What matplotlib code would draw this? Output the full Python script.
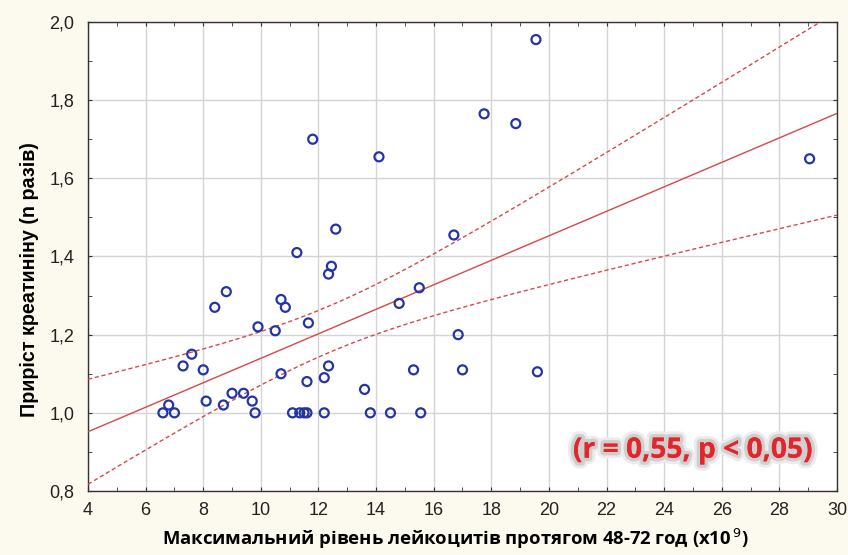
import numpy as np
import matplotlib
matplotlib.use("Agg")
import matplotlib.pyplot as plt
import matplotlib.patheffects as pe
from matplotlib.ticker import MultipleLocator, FuncFormatter

# leukocytes max (x10^9) vs creatinine increase (n times)
leuko = [6.6, 6.8, 7.0, 7.3, 7.6, 8.0, 8.1, 8.4, 8.8, 8.7,
         9.0, 9.4, 9.7, 9.8, 9.9, 10.5, 10.7, 10.7, 10.85, 11.1,
         11.25, 11.35, 11.5, 11.6, 11.6, 11.65, 12.2, 12.2, 12.35, 12.35,
         12.45, 12.6, 13.6, 13.8, 14.5, 14.8, 15.3, 15.5, 15.55, 16.7,
         16.85, 17.0, 11.8, 14.1, 19.55, 17.75, 18.85, 29.05, 19.6]
creat = [1.00, 1.02, 1.00, 1.12, 1.15, 1.11, 1.03, 1.27, 1.31, 1.02,
         1.05, 1.05, 1.03, 1.00, 1.22, 1.21, 1.10, 1.29, 1.27, 1.00,
         1.41, 1.00, 1.00, 1.00, 1.08, 1.23, 1.00, 1.09, 1.12, 1.355,
         1.375, 1.47, 1.06, 1.00, 1.00, 1.28, 1.11, 1.32, 1.00, 1.455,
         1.20, 1.11, 1.70, 1.655, 1.955, 1.765, 1.74, 1.65, 1.105]

xlabel = "Максимальний рівень лейкоцитів протягом 48-72 год (x10$^{\\,9}$)"
ylabel = "Приріст креатиніну (n разів)"
note = "(r = 0,55, p < 0,05)"

x = np.array(leuko)
y = np.array(creat)
n = len(x)

# linear fit + 95% confidence band of the mean
b, a = np.polyfit(x, y, 1)
resid = y - (a + b * x)
s = np.sqrt(np.sum(resid ** 2) / (n - 2))
sxx = np.sum((x - x.mean()) ** 2)
t = 2.012  # t(0.975, 47)
xs = np.linspace(4, 30, 200)
ys = a + b * xs
half = t * s * np.sqrt(1 / n + (xs - x.mean()) ** 2 / sxx)

bg = "#fcf9ee"
red = "#d9474a"
fig = plt.figure(figsize=(8.48, 5.55), dpi=100, facecolor=bg)
ax = fig.add_axes([0.1038, 0.1153, 0.8832, 0.8451])
ax.set_facecolor("white")

ax.plot(xs, ys, color=red, lw=1.0, zorder=3)
ax.plot(xs, ys + half, color=red, lw=1.0, ls=(0, (3, 2)), zorder=3)
ax.plot(xs, ys - half, color=red, lw=1.0, ls=(0, (3, 2)), zorder=3)
ax.scatter(x, y, s=42, facecolors="none", edgecolors="#2335a5", linewidths=1.6, zorder=4)

ax.set_xlim(4, 30)
ax.set_ylim(0.8, 2.0)
ax.xaxis.set_major_locator(MultipleLocator(2))
ax.xaxis.set_minor_locator(MultipleLocator(1))
ax.yaxis.set_major_locator(MultipleLocator(0.2))
ax.yaxis.set_minor_locator(MultipleLocator(0.1))
ax.yaxis.set_major_formatter(FuncFormatter(lambda v, p: f"{v:.1f}".replace(".", ",")))
ax.grid(True, which="major", color="#d4d4d4", lw=1.0)
ax.set_axisbelow(True)
ax.tick_params(which="both", direction="in", top=True, right=True, length=3,
               color="#333333", labelsize=13, labelcolor="#222222")
ax.tick_params(axis="x", pad=8)
ax.tick_params(axis="y", pad=10)
for lab in ax.get_xticklabels() + ax.get_yticklabels():
    lab.set_family("Liberation Sans")
for sp in ax.spines.values():
    sp.set_color("#333333")
    sp.set_linewidth(1.0)

ax.set_xlabel(xlabel, fontsize=13.3, fontweight="bold", family="Open Sans")
ax.set_ylabel(ylabel, fontsize=14.2, fontweight="bold", family="Liberation Sans")
ax.xaxis.set_label_coords(0.49, -0.076)
ax.yaxis.set_label_coords(-0.066, 0.45)

ax.text(0.808, 0.087, note, transform=ax.transAxes, ha="center", va="center",
        fontsize=20.3, fontweight="bold", family="Open Sans", color="#e3262b",
        path_effects=[pe.withStroke(linewidth=9, foreground="#ececec"),
                      pe.withStroke(linewidth=5, foreground="#cfcfcf"), pe.Normal()],
        zorder=5)

fig.savefig("out.png", dpi=100, facecolor=bg)
